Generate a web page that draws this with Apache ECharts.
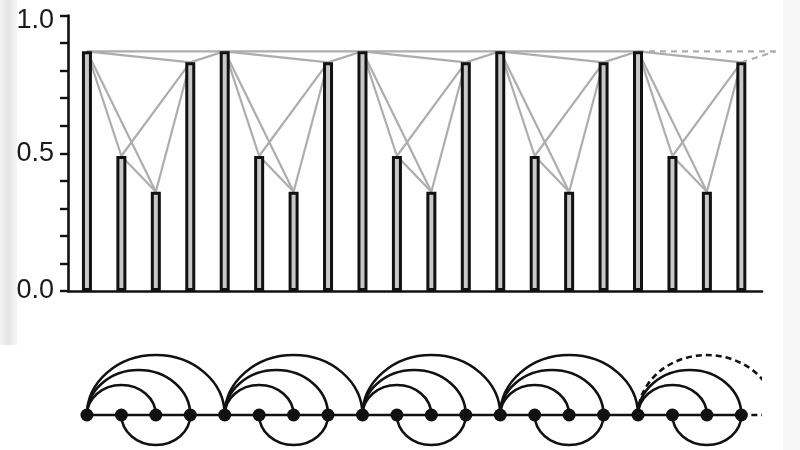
<!DOCTYPE html>
<html>
<head>
<meta charset="utf-8">
<script src="https://cdn.jsdelivr.net/npm/echarts@6/dist/echarts.min.js"></script>
<style>
  html, body { margin: 0; padding: 0; background: #fff; }
  #main { width: 800px; height: 450px; }
</style>
</head>
<body>
<div id="main"></div>
<script>
// bar heights, one per node (5 repeating groups of 4)
const barValues = [
  0.87, 0.49, 0.36, 0.83,
  0.87, 0.49, 0.36, 0.83,
  0.87, 0.49, 0.36, 0.83,
  0.87, 0.49, 0.36, 0.83,
  0.87, 0.49, 0.36, 0.83
];
// value of the next (off-chart) node the dashed links go to
const nextValue = 0.87;
const yTickLabels = ['0.0', '0.5', '1.0'];

// links drawn as arcs above the line
const upperArcs = [
  [0, 2], [0, 3], [0, 4],
  [4, 6], [4, 7], [4, 8],
  [8, 10], [8, 11], [8, 12],
  [12, 14], [12, 15], [12, 16],
  [16, 18], [16, 19]
];
// links drawn as arcs under the line
const lowerArcs = [[1, 3], [5, 7], [9, 11], [13, 15], [17, 19]];
// links between neighbours (the line itself)
const baseLinks = [
  [0, 1], [1, 2], [2, 3], [3, 4], [4, 5], [5, 6], [6, 7], [7, 8], [8, 9], [9, 10],
  [10, 11], [11, 12], [12, 13], [13, 14], [14, 15], [15, 16], [16, 17], [17, 18], [18, 19]
];
// links to the next node, outside the picture
const dashedArcs = [[16, 20]];
const dashedBase = [[19, 20]];

const valAt = (i) => (i < barValues.length ? barValues[i] : nextValue);

const solidLinks = baseLinks.concat(upperArcs, lowerArcs);
const dashedLinks = dashedArcs.concat(dashedBase);

const myChart = echarts.init(document.getElementById('main'));

// straight gray line between two bar tops
const linkItem = (dash) => (params, api) => {
  const p1 = api.coord([api.value(0), api.value(1)]);
  const p2 = api.coord([api.value(2), api.value(3)]);
  return {
    type: 'line',
    shape: { x1: p1[0], y1: p1[1], x2: p2[0], y2: p2[1] },
    style: { stroke: '#adadad', lineWidth: 2.2, lineDash: dash, fill: null }
  };
};

// half ellipse between two nodes on the line
const arcItem = (up, dash) => (params, api) => {
  const p1 = api.coord([api.value(0), 0]);
  const p2 = api.coord([api.value(1), 0]);
  const rx = (p2[0] - p1[0]) / 2;
  const ry = rx * 0.87;
  return {
    type: 'path',
    shape: {
      pathData: 'M' + p1[0] + ' ' + p1[1] + ' A' + rx + ' ' + ry + ' 0 0 ' + (up ? 1 : 0) + ' ' + p2[0] + ' ' + p2[1]
    },
    style: { stroke: '#111', lineWidth: 2.6, fill: 'none', lineDash: dash }
  };
};

const segItem = (dash) => (params, api) => {
  const p1 = api.coord([api.value(0), 0]);
  const p2 = api.coord([api.value(1), 0]);
  return {
    type: 'line',
    shape: { x1: p1[0], y1: p1[1], x2: p2[0], y2: p2[1] },
    style: { stroke: '#111', lineWidth: 2.6, lineDash: dash, fill: null }
  };
};

const xRange = { min: -0.55, max: 19.6 };
const labelFont = 'Liberation Sans, Arial, sans-serif';

const option = {
  backgroundColor: '#fff',
  animation: false,
  graphic: [
    {
      type: 'rect', left: 0, top: 0, z: -10,
      shape: { width: 17, height: 345 },
      style: {
        fill: new echarts.graphic.LinearGradient(0, 0, 1, 0, [
          { offset: 0, color: '#f2f2f2' },
          { offset: 0.5, color: '#e4e4e4' },
          { offset: 1, color: '#f6f6f6' }
        ])
      }
    },
    {
      type: 'rect', left: 783, top: 0, z: -10,
      shape: { width: 17, height: 450 },
      style: { fill: '#f6f6f6' }
    }
  ],
  grid: [
    { left: 68, right: 38, top: 15, bottom: 159 },
    { left: 68, right: 38, top: 330, bottom: 0 }
  ],
  xAxis: [
    {
      type: 'value', gridIndex: 0, min: xRange.min, max: xRange.max,
      axisLine: { show: true, onZero: false, lineStyle: { color: '#111', width: 2.6 } },
      axisTick: { show: false },
      axisLabel: { show: false },
      splitLine: { show: false }
    },
    {
      type: 'value', gridIndex: 1, min: xRange.min, max: xRange.max,
      show: false, splitLine: { show: false }
    }
  ],
  yAxis: [
    {
      type: 'value', gridIndex: 0, min: 0, max: 1, interval: 0.1,
      axisLine: { show: true, onZero: false, lineStyle: { color: '#111', width: 2.6 } },
      axisTick: { show: true, length: 8, lineStyle: { color: '#111', width: 2.4 } },
      axisLabel: {
        margin: 14,
        fontSize: 27,
        color: '#1a1a1a',
        fontFamily: labelFont,
        formatter: (v) => {
          const s = v.toFixed(1);
          if (yTickLabels.indexOf(s) < 0) return '';
          // the top label sits a little below its tick
          return s === '1.0' ? '{gap| }\n{top|' + s + '}' : s;
        },
        rich: {
          gap: { fontSize: 1, lineHeight: 10 },
          top: { fontSize: 27, lineHeight: 30, color: '#1a1a1a', fontFamily: labelFont }
        }
      },
      splitLine: { show: false }
    },
    {
      // zero sits 85px below the grid top (330 + 85 = 415)
      type: 'value', gridIndex: 1, min: -0.35, max: 0.85,
      show: false, splitLine: { show: false }
    }
  ],
  series: [
    {
      type: 'custom',
      xAxisIndex: 0, yAxisIndex: 0,
      z: 1,
      encode: { x: [0, 2], y: [1, 3] },
      renderItem: linkItem(null),
      data: solidLinks.map(([a, b]) => [a, valAt(a), b, valAt(b)])
    },
    {
      type: 'custom',
      xAxisIndex: 0, yAxisIndex: 0,
      z: 1,
      clip: false,
      encode: { x: [0, 2], y: [1, 3] },
      renderItem: linkItem([6, 5]),
      data: dashedLinks.map(([a, b]) => [a, valAt(a), b, valAt(b)])
    },
    {
      type: 'bar',
      xAxisIndex: 0, yAxisIndex: 0,
      z: 3,
      barWidth: 10,
      itemStyle: { color: '#c8c8c8', borderColor: '#111', borderWidth: 3 },
      data: barValues.map((v, i) => [i, v])
    },
    {
      type: 'custom',
      xAxisIndex: 1, yAxisIndex: 1,
      encode: { x: [0, 1] },
      renderItem: segItem(null),
      data: baseLinks
    },
    {
      type: 'custom',
      xAxisIndex: 1, yAxisIndex: 1,
      clip: true,
      encode: { x: [0, 1] },
      renderItem: segItem([6, 4]),
      data: dashedBase
    },
    {
      type: 'custom',
      xAxisIndex: 1, yAxisIndex: 1,
      encode: { x: [0, 1] },
      renderItem: arcItem(true, null),
      data: upperArcs
    },
    {
      type: 'custom',
      xAxisIndex: 1, yAxisIndex: 1,
      encode: { x: [0, 1] },
      renderItem: arcItem(false, null),
      data: lowerArcs
    },
    {
      type: 'custom',
      xAxisIndex: 1, yAxisIndex: 1,
      clip: true,
      encode: { x: [0, 1] },
      renderItem: arcItem(true, [6, 4]),
      data: dashedArcs
    },
    {
      type: 'scatter',
      xAxisIndex: 1, yAxisIndex: 1,
      z: 5,
      symbolSize: 13,
      itemStyle: { color: '#111', opacity: 1 },
      data: barValues.map((v, i) => [i, 0])
    }
  ]
};

myChart.setOption(option);
</script>
</body>
</html>
